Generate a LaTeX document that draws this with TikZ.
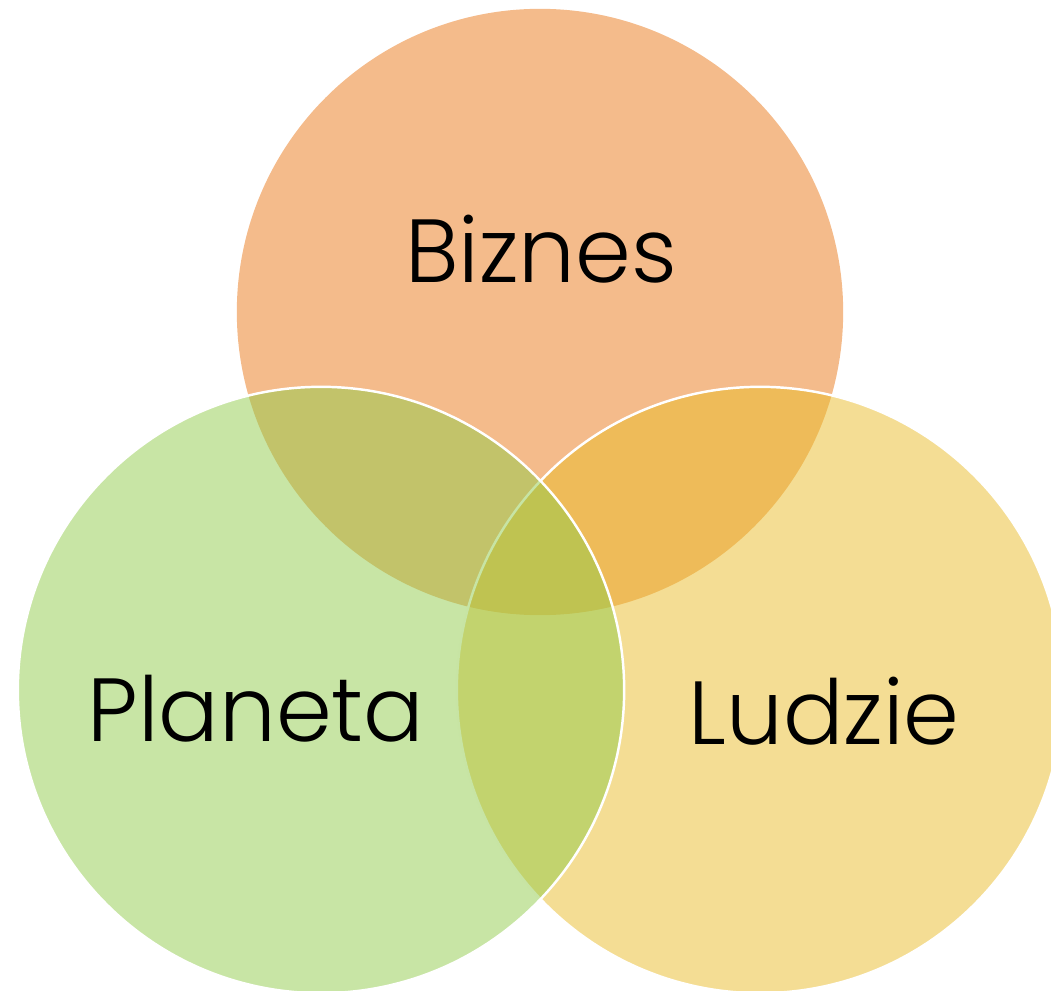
\documentclass[tikz,border=0pt]{standalone}
\usepackage{fontspec}
\setmainfont{Poppins Light}
\usetikzlibrary{shapes.geometric}
\definecolor{biz_orange}{RGB}{244,187,139}
\definecolor{lud_yellow}{RGB}{233,187,41}
\definecolor{pla_green}{RGB}{145,203,75}
\tikzset{
  venn/.style = {circle, inner sep=0pt, minimum size=6.06cm},
  venn_top/.style = {venn, fill=biz_orange},
  venn_r/.style = {venn, draw=white, line width=0.7pt, fill=lud_yellow, fill opacity=0.5},
  venn_l/.style = {venn, draw=white, line width=0.7pt, fill=pla_green, fill opacity=0.5},
  label_t/.style = {font=\fontsize{25.5}{28}\selectfont, text=black, inner sep=0pt}
}
\begin{document}
\begin{tikzpicture}[x=0.01cm, y=-0.01cm]
	\clip (0,0) rectangle (1051,991);
	\node [venn_top] (biznes_c) at (540,312) {};
	\node [venn_r] (ludzie_c) at (760,690) {};
	\node [venn_l] (planeta_c) at (321,690) {};
	% labels
	\node [label_t] (biznes) at (541,249) {Biznes};
	\node [label_t] (planeta) at (256,709) {Planeta};
	\node [label_t] (ludzie) at (824,711) {Ludzie};
\end{tikzpicture}
\end{document}
